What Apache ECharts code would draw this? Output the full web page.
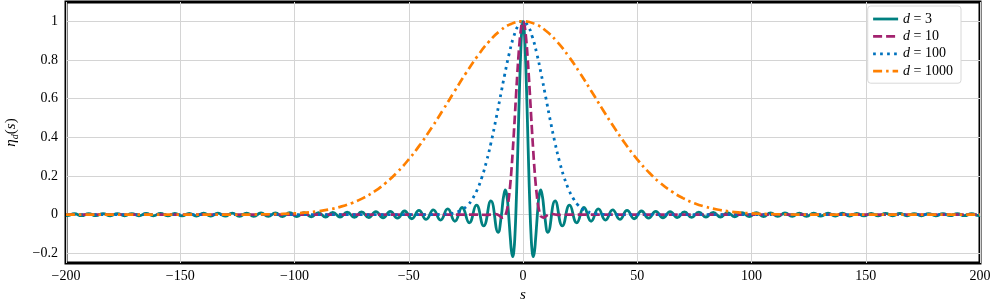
<!DOCTYPE html>
<html><head><meta charset="utf-8">
<script src="https://cdn.jsdelivr.net/npm/echarts@6/dist/echarts.min.js"></script>
<style>html,body{margin:0;padding:0;background:#fff}#c{width:996px;height:302px}</style>
</head><body><div id="c"></div>
<script>
const seriesNames = ['d = 3', 'd = 10', 'd = 100', 'd = 1000'];
const xTicks = [-200, -150, -100, -50, 0, 50, 100, 150, 200];
const yTicks = [-0.2, 0, 0.2, 0.4, 0.6, 0.8, 1];

const d3 = [
[-200,-0.0044],[-199.49,-0.0050],[-196.35,0.0051],[-193.21,-0.0052],[-190.07,0.0053],[-186.92,-0.0053],[-183.78,0.0054],[-180.64,-0.0055],[-177.5,0.0056],[-174.36,-0.0057],[-171.21,0.0058],[-168.07,-0.0059],[-164.93,0.0061],[-161.79,-0.0062],[-158.65,0.0063],[-155.5,-0.0064],[-152.36,0.0066],[-149.22,-0.0067],[-146.08,0.0068],[-142.93,-0.0070],[-139.79,0.0072],[-136.65,-0.0073],[-133.51,0.0075],[-130.37,-0.0077],[-127.22,0.0079],[-124.08,-0.0081],[-120.94,0.0083],[-117.8,-0.0085],[-114.66,0.0087],[-111.51,-0.0090],[-108.37,0.0092],[-105.23,-0.0095],[-102.09,0.0098],[-98.95,-0.010],[-95.8,0.010],[-92.66,-0.011],[-89.52,0.011],[-86.38,-0.012],[-83.24,0.012],[-80.09,-0.012],[-76.95,0.013],[-73.81,-0.014],[-70.67,0.014],[-67.53,-0.015],[-64.38,0.016],[-61.24,-0.016],[-58.1,0.017],[-54.96,-0.018],[-51.82,0.019],[-48.68,-0.021],[-45.54,0.022],[-42.4,-0.024],[-39.25,0.025],[-36.11,-0.028],[-32.96,0.030],[-29.81,-0.034],[-26.67,0.037],[-23.52,-0.042],[-20.37,0.049],[-17.22,-0.058],[-14.07,0.071],[-10.9,-0.091],[-9.42,0],[-9,0.046],[-8.5,0.094],[-7.73,0.128],[-7,0.094],[-6.5,0.033],[-6,-0.047],[-5.5,-0.128],[-5,-0.192],[-4.49,-0.217],[-4,-0.189],[-3.5,-0.1],[-3,0.047],[-2.5,0.239],[-2,0.455],[-1.5,0.665],[-1,0.841],[-0.5,0.959],
[0,1],
[0.5,0.959],[1,0.841],[1.5,0.665],[2,0.455],[2.5,0.239],[3,0.047],[3.5,-0.1],[4,-0.189],[4.49,-0.217],[5,-0.192],[5.5,-0.128],[6,-0.047],[6.5,0.033],[7,0.094],[7.73,0.128],[8.5,0.094],[9,0.046],[9.42,0],[10.9,-0.091],[14.07,0.071],[17.22,-0.058],[20.37,0.049],[23.52,-0.042],[26.67,0.037],[29.81,-0.034],[32.96,0.030],[36.11,-0.028],[39.25,0.025],[42.4,-0.024],[45.54,0.022],[48.68,-0.021],[51.82,0.019],[54.96,-0.018],[58.1,0.017],[61.24,-0.016],[64.38,0.016],[67.53,-0.015],[70.67,0.014],[73.81,-0.014],[76.95,0.013],[80.09,-0.012],[83.24,0.012],[86.38,-0.012],[89.52,0.011],[92.66,-0.011],[95.8,0.010],[98.95,-0.010],[102.09,0.0098],[105.23,-0.0095],[108.37,0.0092],[111.51,-0.0090],[114.66,0.0087],[117.8,-0.0085],[120.94,0.0083],[124.08,-0.0081],[127.22,0.0079],[130.37,-0.0077],[133.51,0.0075],[136.65,-0.0073],[139.79,0.0072],[142.93,-0.0070],[146.08,0.0068],[149.22,-0.0067],[152.36,0.0066],[155.5,-0.0064],[158.65,0.0063],[161.79,-0.0062],[164.93,0.0061],[168.07,-0.0059],[171.21,0.0058],[174.36,-0.0057],[177.5,0.0056],[180.64,-0.0055],[183.78,0.0054],[186.92,-0.0053],[190.07,0.0053],[193.21,-0.0052],[196.35,0.0051],[199.49,-0.0050],[200,-0.0044]
];

const d10 = [
[-200,0],[-20,0],[-16,-0.0008],[-14,0.0008],[-13,0.003],[-12,0.0034],[-11,-0.0004],[-10,-0.0084],[-9,-0.0155],[-8,-0.0099],[-7.59,0],[-7,0.025],[-6.5,0.059],[-6,0.106],[-5.5,0.166],[-5,0.240],[-4.5,0.327],[-4,0.422],[-3.5,0.523],[-3,0.626],[-2.5,0.725],[-2,0.816],[-1.5,0.893],[-1,0.951],[-0.5,0.988],
[0,1],
[0.5,0.988],[1,0.951],[1.5,0.893],[2,0.816],[2.5,0.725],[3,0.626],[3.5,0.523],[4,0.422],[4.5,0.327],[5,0.240],[5.5,0.166],[6,0.106],[6.5,0.059],[7,0.025],[7.59,0],[8,-0.0099],[9,-0.0155],[10,-0.0084],[11,-0.0004],[12,0.0034],[13,0.003],[14,0.0008],[16,-0.0008],[20,0],[200,0]
];

const d100 = [
[-200,0],[-50,0],[-40,0.0003],[-35,0.0014],[-32,0.0045],[-30,0.009],[-28,0.017],[-26,0.030],[-24,0.051],[-22,0.084],[-20,0.130],[-18,0.193],[-16,0.274],[-14,0.372],[-12,0.484],[-10,0.605],[-8,0.725],[-6,0.835],[-4,0.923],[-2,0.980],
[0,1],
[2,0.980],[4,0.923],[6,0.835],[8,0.725],[10,0.605],[12,0.484],[14,0.372],[16,0.274],[18,0.193],[20,0.130],[22,0.084],[24,0.051],[26,0.030],[28,0.017],[30,0.009],[32,0.0045],[35,0.0014],[40,0.0003],[50,0],[200,0]
];

const d1000 = [
[-200,0],[-150,0],[-130,0.0002],[-120,0.0007],[-110,0.0023],[-100,0.0066],[-95,0.0107],[-90,0.0171],[-85,0.0266],[-80,0.0404],[-75,0.0596],[-70,0.0858],[-65,0.1204],[-60,0.1648],[-55,0.2199],[-50,0.2861],[-45,0.3629],[-40,0.4491],[-35,0.5418],[-30,0.6375],[-25,0.7316],[-20,0.8187],[-15,0.8936],[-10,0.9512],[-5,0.9876],
[0,1],
[5,0.9876],[10,0.9512],[15,0.8936],[20,0.8187],[25,0.7316],[30,0.6375],[35,0.5418],[40,0.4491],[45,0.3629],[50,0.2861],[55,0.2199],[60,0.1648],[65,0.1204],[70,0.0858],[75,0.0596],[80,0.0404],[85,0.0266],[90,0.0171],[95,0.0107],[100,0.0066],[110,0.0023],[120,0.0007],[130,0.0002],[150,0],[200,0]
];

const F = "'Liberation Serif', 'DejaVu Serif', serif";
const minus = v => String(v).replace('-', '\u2212');
const chart = echarts.init(document.getElementById('c'), null, {renderer: 'canvas'});
const mk = (name, data, color, type, width) => ({
  name, type: 'line', data, symbol: 'none', showSymbol: false, smooth: true,
  lineStyle: {color, type, width, cap: 'butt'}, itemStyle: {color},
  emphasis: {disabled: true}
});
chart.setOption({
  animation: false,
  backgroundColor: '#fff',
  grid: {left: 66, right: 16, top: 2, bottom: 39, outerBoundsMode: 'none', containLabel: false,
         show: true, borderColor: '#000', borderWidth: 3, backgroundColor: '#fff'},
  xAxis: {
    type: 'value', min: -200, max: 200,
    name: 's', nameLocation: 'middle', nameGap: 24,
    nameTextStyle: {fontFamily: F, fontStyle: 'italic', fontSize: 15, color: '#000'},
    axisLine: {show: false},
    axisTick: {show: false, customValues: xTicks},
    axisLabel: {customValues: xTicks, fontFamily: F, fontSize: 14, color: '#000', margin: 6, formatter: minus},
    splitLine: {show: true, lineStyle: {color: '#d4d4d4', width: 1}}
  },
  yAxis: {
    type: 'value', min: -0.25, max: 1.1,
    name: '{e|\u03b7}{s|d}{p|(}{e|s}{p|)}', nameLocation: 'middle', nameGap: 46,
    nameTextStyle: {fontFamily: F, fontSize: 15, color: '#000',
      rich: {
        e: {fontFamily: F, fontStyle: 'italic', fontSize: 15, lineHeight: 18, color: '#000'},
        s: {fontFamily: F, fontStyle: 'italic', fontSize: 10, lineHeight: 18, verticalAlign: 'bottom', color: '#000'},
        p: {fontFamily: F, fontSize: 15, lineHeight: 18, color: '#000'}
      }},
    axisLine: {show: false},
    axisTick: {show: false, customValues: yTicks},
    axisLabel: {customValues: yTicks, fontFamily: F, fontSize: 14, color: '#000', margin: 8, formatter: minus},
    splitLine: {show: true, lineStyle: {color: '#d4d4d4', width: 1}}
  },
  legend: {
    data: seriesNames, orient: 'vertical', right: 35, top: 6,
    itemWidth: 25, itemHeight: 14, itemGap: 3.4, padding: [6, 8, 5, 4],
    backgroundColor: '#fff', borderColor: '#d8d8d8', borderWidth: 1, borderRadius: 3,
    itemStyle: {opacity: 0},
    lineStyle: {width: 2.8},
    textStyle: {fontFamily: F, fontSize: 14, color: '#000',
      rich: {i: {fontFamily: F, fontStyle: 'italic', fontSize: 14, color: '#000'},
             n: {fontFamily: F, fontSize: 14, color: '#000'}}},
    formatter: name => '{i|d}{n|' + name.slice(1) + '}'
  },
  series: [
    mk(seriesNames[0], d3, '#008080', 'solid', 2.8),
    mk(seriesNames[1], d10, '#a3236f', [9, 4], 2.7),
    mk(seriesNames[2], d100, '#0072bd', [2.7, 4.3], 2.8),
    mk(seriesNames[3], d1000, '#ff8000', [9, 4, 2.5, 4], 2.7)
  ]
});
</script></body></html>
